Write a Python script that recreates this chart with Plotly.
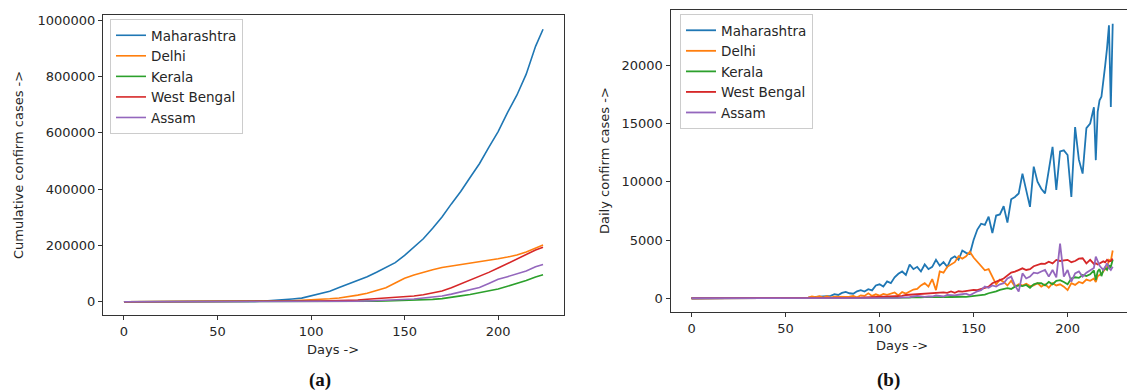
import plotly.graph_objects as go

# ---------------- data ----------------
states = ["Maharashtra", "Delhi", "Kerala", "West Bengal", "Assam"]
colors = ["#1f77b4", "#ff7f0e", "#2ca02c", "#d62728", "#9467bd"]

# cumulative confirmed cases (panel a)
days_cum = [0, 30, 60, 65, 70, 75, 80, 85, 90, 95, 100, 105, 110, 115, 120, 125, 130, 135,
            140, 145, 150, 155, 160, 165, 170, 175, 180, 185, 190, 195, 200, 205, 210, 215, 220, 224]
cum_maharashtra = [0, 0, 220, 635, 1364, 2684, 4200, 6817, 9915, 12974, 20228, 27524, 37136, 50231,
                   62228, 74860, 88528, 104568, 120504, 139010, 164626, 192990, 223724, 260924,
                   300937, 347502, 391440, 441228, 490262, 548313, 604358, 671942, 733568, 808306,
                   907212, 968000]
cum_delhi = [0, 0, 97, 445, 669, 1561, 2003, 2514, 3439, 4549, 6318, 8470, 10554, 13418, 17386,
             23645, 29943, 38958, 49979, 66602, 83077, 94695, 104864, 113740, 121582, 126323,
             131219, 137677, 142723, 147391, 152580, 158604, 165764, 177060, 191449, 201174]
cum_kerala = [0, 0, 202, 306, 357, 378, 401, 450, 495, 500, 505, 560, 642, 795, 1150, 1412, 2005,
              2322, 2912, 3451, 4189, 5204, 6195, 8322, 11066, 15032, 20895, 25911, 31700, 38144,
              44995, 55000, 64356, 75385, 87841, 95918]
cum_west_bengal = [0, 0, 22, 69, 116, 213, 339, 514, 758, 1259, 1786, 2377, 2961, 3667, 4536, 6168,
                   8613, 10698, 12735, 14728, 17283, 20488, 24823, 31448, 38011, 49321, 62964,
                   75516, 89666, 104326, 119578, 135596, 150772, 165721, 183865, 193175]
cum_assam = [0, 0, 0, 24, 29, 31, 35, 36, 38, 43, 59, 92, 107, 350, 1061, 2000, 2776, 3800, 4904,
             6000, 7492, 9800, 13336, 17000, 20646, 27000, 34947, 42000, 50445, 65000, 79667,
             89000, 97778, 109000, 124330, 132655]

# daily confirmed cases (panel b)
days_daily = ([0, 30] + list(range(60, 214, 2)) + list(range(214, 225)))
daily_maharashtra = [0, 0,
    30, 60, 90, 120, 110, 160, 230, 210, 350, 280,
    460, 550, 430, 390, 600, 700, 580, 780, 680, 1100,
    1200, 1000, 1450, 1300, 1800, 2100, 2300, 2000, 2900, 2500,
    2700, 2300, 2900, 2500, 2700, 3300, 2800, 3100, 2700, 3400,
    3600, 3300, 4100, 3900, 3800, 5000, 5900, 6400, 6300, 7000,
    5600, 7100, 7200, 7900, 6500, 8500, 8700, 9000, 10700, 9300,
    7850, 11300, 10000, 9400, 9000, 11000, 13000, 9300, 12600, 12700,
    12300, 8700, 14700, 11900, 10700, 14600, 15000,
    16400, 11860, 16000, 17000, 17300, 18500, 20000, 21500, 23430, 16430, 23570]
daily_delhi = [0, 0,
    20, 50, 150, 100, 180, 50, 170, 60, 140, 120,
    80, 110, 130, 190, 80, 250, 200, 420, 200, 340,
    220, 380, 300, 410, 500, 250, 530, 400, 600, 750,
    800, 1100, 1300, 1000, 1650, 700, 2300, 2200, 2700, 2900,
    3100, 3600, 3400, 3600, 4000, 3500, 3100, 2700, 2400, 2500,
    1800, 1200, 1600, 1400, 1100, 1500, 1000, 1200, 1100, 1250,
    1050, 1100, 1300, 1000, 1200, 900, 1300, 1100, 1200, 1000,
    700, 1300, 1150, 1400, 1300, 1600, 1500,
    1700, 1400, 1900, 2000, 2100, 2300, 2500, 2700, 3300, 3200, 4100]
daily_kerala = [0, 0,
    20, 15, 10, 8, 5, 5, 3, 2, 1, 2,
    5, 3, 10, 8, 2, 1, 0, 5, 2, 3,
    2, 5, 10, 20, 30, 25, 60, 40, 60, 90,
    60, 80, 100, 90, 90, 80, 80, 90, 100, 110,
    130, 140, 130, 120, 150, 190, 220, 250, 310, 430,
    500, 600, 720, 800, 860, 800, 1000, 1100, 1050, 1140,
    900, 1200, 1290, 1300, 1100, 1400, 1200, 1500, 1560, 1400,
    1200, 1700, 1800, 1750, 2000, 1900, 2050,
    2400, 1570, 2300, 2500, 1900, 2400, 2600, 2430, 2800, 2700, 3300]
daily_west_bengal = [0, 0,
    3, 4, 5, 10, 12, 15, 20, 35, 25, 40,
    30, 50, 45, 60, 55, 50, 65, 80, 100, 110,
    120, 100, 130, 150, 140, 150, 200, 280, 300, 360,
    340, 400, 370, 420, 440, 430, 460, 500, 470, 580,
    470, 600, 570, 620, 640, 720, 690, 800, 870, 1000,
    1290, 1400, 1560, 1690, 1980, 2200, 2285, 2450, 2570, 2430,
    2500, 2750, 2860, 2980, 2950, 3140, 3000, 3290, 3200, 3250,
    3300, 3100, 3200, 3400, 3430, 3000, 3300,
    2950, 3000, 2900, 3000, 3100, 3170, 3080, 3300, 3150, 3200, 3400]
daily_assam = [0, 0,
    0, 1, 2, 4, 2, 0, 1, 2, 0, 1,
    0, 1, 2, 0, 1, 5, 1, 2, 10, 3,
    2, 7, 10, 6, 15, 30, 80, 60, 100, 150,
    200, 170, 120, 160, 150, 250, 220, 150, 280, 260,
    240, 300, 350, 400, 250, 460, 600, 700, 1000, 900,
    1100, 1000, 1200, 1290, 1700, 1860, 1100, 570, 2140, 1700,
    1860, 2200, 2140, 2300, 2430, 1860, 2430, 1800, 4700, 1860,
    2430, 1430, 2140, 2300, 1860, 2200, 2430,
    2600, 3570, 3140, 2800, 2600, 2430, 2700, 3000, 2600, 2430, 2700]

cum_series = [cum_maharashtra, cum_delhi, cum_kerala, cum_west_bengal, cum_assam]
daily_series = [daily_maharashtra, daily_delhi, daily_kerala, daily_west_bengal, daily_assam]

x_tickvals = [0, 50, 100, 150, 200]
x_ticktext = ["0", "50", "100", "150", "200"]
cum_tickvals = [0, 200000, 400000, 600000, 800000, 1000000]
cum_ticktext = ["0", "200000", "400000", "600000", "800000", "1000000"]
daily_tickvals = [0, 5000, 10000, 15000, 20000]
daily_ticktext = ["0", "5000", "10000", "15000", "20000"]

# ---------------- figure ----------------
W, H = 1127, 392
FONT = "DejaVu Sans"
TXT = "#262626"

fig = go.Figure()
for name, col, ys in zip(states, colors, cum_series):
    fig.add_trace(go.Scatter(x=days_cum, y=ys, mode="lines", name=name,
                             line=dict(color=col, width=1.6), xaxis="x", yaxis="y",
                             legend="legend"))
for name, col, ys in zip(states, colors, daily_series):
    fig.add_trace(go.Scatter(x=days_daily, y=ys, mode="lines", name=name,
                             line=dict(color=col, width=1.8), xaxis="x2", yaxis="y2",
                             legend="legend2"))

axis_common = dict(showline=True, linecolor="#333333", linewidth=1, ticks="outside",
                   ticklen=4, tickwidth=1, tickcolor="#333333", showgrid=False,
                   zeroline=False, automargin=False,
                   tickfont=dict(family=FONT, size=13, color=TXT))

def px_x(p):
    return p / W

def px_y(p):
    return 1 - p / H

fig.update_layout(
    width=W, height=H,
    margin=dict(l=0, r=0, t=0, b=0),
    paper_bgcolor="white", plot_bgcolor="white",
    xaxis=dict(domain=[px_x(103), px_x(564)], range=[-11.2, 235.2], anchor="y",
               tickvals=x_tickvals, ticktext=x_ticktext, mirror=True, **axis_common),
    yaxis=dict(domain=[px_y(315.4), px_y(15)], range=[-48500, 1018500], anchor="x",
               tickvals=cum_tickvals, ticktext=cum_ticktext, mirror=True, **axis_common),
    xaxis2=dict(domain=[px_x(670.5), 1.0], range=[-11.2, 231.6], anchor="y2",
                tickvals=x_tickvals, ticktext=x_ticktext, mirror=True, **axis_common),
    yaxis2=dict(domain=[px_y(312), px_y(10)], range=[-1180, 24750], anchor="x2",
                tickvals=daily_tickvals, ticktext=daily_ticktext, mirror=False, **axis_common),
    legend=dict(x=px_x(110), y=px_y(19), xanchor="left", yanchor="top",
                bgcolor="rgba(255,255,255,0.85)", bordercolor="#cccccc", borderwidth=1,
                font=dict(family=FONT, size=13.5, color=TXT)),
    legend2=dict(x=px_x(680), y=px_y(14), xanchor="left", yanchor="top",
                 bgcolor="rgba(255,255,255,0.85)", bordercolor="#cccccc", borderwidth=1,
                 font=dict(family=FONT, size=13.5, color=TXT)),
    showlegend=True,
)

annos = [
    dict(text="Cumulative confirm cases ->", x=px_x(18), y=px_y(165), textangle=-90,
         font=dict(family=FONT, size=13, color=TXT)),
    dict(text="Daily confirm cases ->", x=px_x(604), y=px_y(161), textangle=-90,
         font=dict(family=FONT, size=13, color=TXT)),
    dict(text="Days ->", x=px_x(333), y=px_y(349), font=dict(family=FONT, size=13, color=TXT)),
    dict(text="Days ->", x=px_x(902), y=px_y(345), font=dict(family=FONT, size=13, color=TXT)),
    dict(text="<b>(a)</b>", x=px_x(320), y=px_y(380),
         font=dict(family="Liberation Serif", size=19, color="#111111")),
    dict(text="<b>(b)</b>", x=px_x(888), y=px_y(380),
         font=dict(family="Liberation Serif", size=19, color="#111111")),
]
for a in annos:
    fig.add_annotation(xref="paper", yref="paper", showarrow=False,
                       xanchor="center", yanchor="middle", **a)

fig.write_html("out.html", config={"displayModeBar": False},
               post_script="document.body.style.margin='0px';document.body.style.padding='0px';"
                           "document.body.style.overflow='hidden';")
